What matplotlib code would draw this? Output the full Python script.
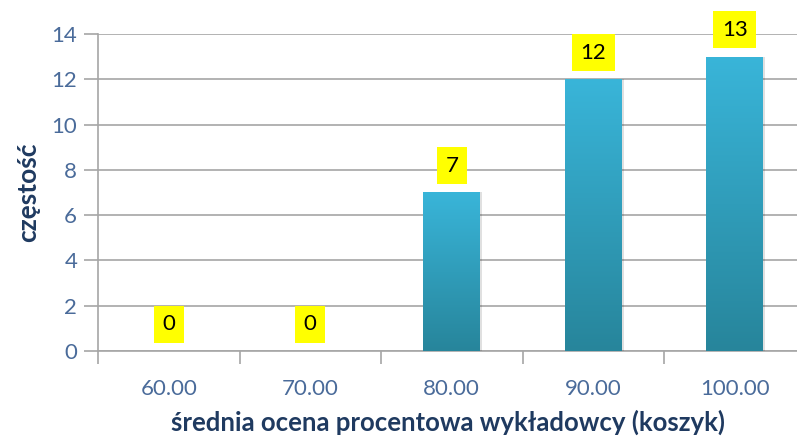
import numpy as np
import matplotlib
matplotlib.use("Agg")
import matplotlib.pyplot as plt
from matplotlib.colors import LinearSegmentedColormap

categories = ["60.00", "70.00", "80.00", "90.00", "100.00"]
counts = [0, 0, 7, 12, 13]
y_ticks = [0, 2, 4, 6, 8, 10, 12, 14]

plt.rcParams["font.family"] = ["Lato", "DejaVu Sans"]

fig = plt.figure(figsize=(7.97, 4.41), dpi=100)
ax = fig.add_axes([0.123, 0.204, 0.877, 0.719])

x = np.arange(len(categories))
bars = ax.bar(x, counts, width=0.4, color="none", zorder=3)

grad = LinearSegmentedColormap.from_list("bar", ["#27859b", "#39b5d9"])
g = np.linspace(0, 1, 256).reshape(-1, 1)
for b in bars:
    h = b.get_height()
    if h <= 0:
        continue
    x0, w = b.get_x(), b.get_width()
    # soft shadow
    ax.bar(x0 + w / 2 + 0.012, h, width=w + 0.01, color="#000000", alpha=0.12,
           zorder=2, linewidth=0)
    im = ax.imshow(g, cmap=grad, origin="lower", aspect="auto",
                   extent=(x0, x0 + w, 0, h), zorder=3)
    im.set_clip_path(b)

for xi, v in zip(x, counts):
    ax.annotate(str(v), xy=(xi, v), xytext=(0, 12), textcoords="offset points",
                ha="center", va="bottom", fontsize=16, color="black", zorder=5,
                bbox=dict(boxstyle="square,pad=0.38", fc="#ffff00", ec="none"))

ax.set_xlim(-0.5, 4.44)
ax.set_ylim(0, 14)
ax.set_yticks(y_ticks)
ax.set_xticks(x)
ax.set_xticklabels(categories)
ax.set_xticks(np.arange(-0.5, 4.0, 1.0), minor=True)

grid_c = "#a6a6a6"
ax.grid(axis="y", color=grid_c, linewidth=1.2, zorder=0)
ax.set_axisbelow(True)
for s in ["top", "right", "bottom"]:
    ax.spines[s].set_visible(False)
ax.spines["left"].set_color(grid_c)
ax.spines["left"].set_linewidth(1.2)
ax.axhline(0, color=grid_c, linewidth=1.2, zorder=1, clip_on=False)

ax.tick_params(axis="y", length=10, color=grid_c, width=1.2, labelsize=16,
               labelcolor="#4a6b9a", pad=5)
ax.tick_params(axis="x", which="major", length=0, labelsize=16,
               labelcolor="#4a6b9a", pad=20)
ax.tick_params(axis="x", which="minor", length=9, color=grid_c, width=1.2)

ax.set_ylabel("częstość", fontsize=19, fontweight="bold", color="#1f3a60",
              labelpad=8)
ax.set_xlabel("średnia ocena procentowa wykładowcy (koszyk)", fontsize=18.5,
              fontweight="bold", color="#1f3a60", labelpad=8)

fig.savefig("out.png", dpi=100)
